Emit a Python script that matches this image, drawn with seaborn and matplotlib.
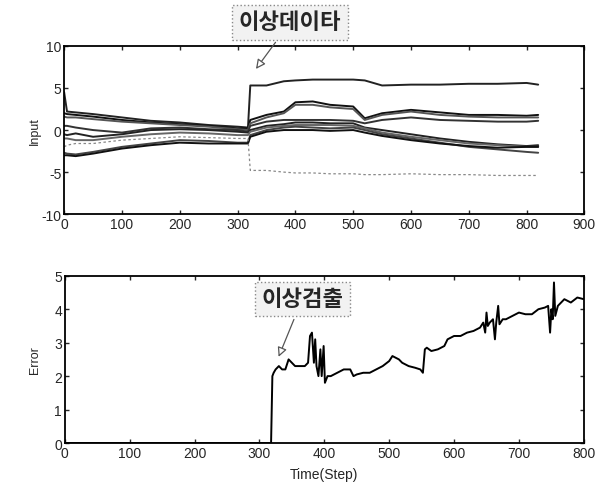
# Input / Error chart (MATLAB look) recreated with seaborn
import pandas as pd
import numpy as np
import matplotlib
matplotlib.use("Agg")
import matplotlib.pyplot as plt
import seaborn as sns

# Top panel: input signals, sampled at these steps
steps = [0, 5, 20, 50, 100, 150, 200, 250, 300, 318, 322, 350, 380, 400,
         430, 460, 500, 520, 550, 600, 650, 700, 750, 800, 820]

input_1 = [4.5, 2.2, 2.1, 1.9, 1.5, 1.1, 0.9, 0.6, 0.4, 0.3, 5.3, 5.3, 5.8, 5.9,
           6.0, 6.0, 6.0, 5.9, 5.3, 5.4, 5.4, 5.5, 5.5, 5.6, 5.4]
input_2 = [2.0, 1.9, 1.8, 1.6, 1.2, 0.9, 0.7, 0.5, 0.2, 0.2, 1.2, 1.8, 2.2, 3.3,
           3.4, 3.0, 2.8, 1.4, 2.0, 2.4, 2.1, 1.8, 1.8, 1.7, 1.8]
input_3 = [1.6, 1.5, 1.5, 1.3, 1.0, 0.8, 0.6, 0.4, 0.1, 0.0, 0.8, 1.5, 2.0, 3.0,
           3.0, 2.7, 2.5, 1.2, 1.8, 2.2, 1.8, 1.6, 1.5, 1.5, 1.5]
input_4 = [0.5, 0.5, 0.3, 0.0, -0.3, 0.2, 0.3, 0.1, 0.0, -0.2, 0.5, 1.0, 1.2, 1.2,
           1.2, 1.2, 1.1, 0.8, 1.2, 1.5, 1.2, 1.1, 1.0, 1.0, 1.1]
input_5 = [-0.5, -0.6, -0.4, -0.8, -0.5, 0.0, 0.1, 0.0, -0.2, -0.3, 0.0, 0.5, 0.7, 0.9,
           0.9, 0.8, 0.8, 0.3, 0.0, -0.5, -1.0, -1.4, -1.7, -1.9, -1.8]
input_6 = [-1.0, -1.0, -1.2, -1.2, -0.8, -0.5, -0.3, -0.4, -0.6, -0.6, -0.2, 0.3, 0.5, 0.6,
           0.6, 0.6, 0.5, 0.2, -0.3, -0.8, -1.2, -1.6, -1.8, -2.0, -2.0]
input_8 = [-2.7, -2.8, -2.9, -2.6, -2.0, -1.6, -1.2, -1.3, -1.5, -1.5, -0.6, 0.0, 0.3, 0.4,
           0.3, 0.2, 0.3, 0.0, -0.5, -1.0, -1.5, -2.0, -2.3, -2.6, -2.7]
input_9 = [-3.0, -3.0, -3.1, -2.8, -2.2, -1.8, -1.5, -1.6, -1.6, -1.6, -0.8, -0.2, 0.0, 0.0,
           0.0, -0.1, 0.0, -0.3, -0.7, -1.2, -1.6, -1.9, -2.1, -2.0, -2.0]
# the faint one that drops to about -5 at the anomaly
input_7 = [-2.0, -1.8, -1.6, -1.6, -1.2, -1.0, -0.8, -0.9, -1.0, -1.0, -4.8, -4.8, -5.0, -5.1,
           -5.1, -5.2, -5.2, -5.3, -5.3, -5.2, -5.3, -5.3, -5.4, -5.4, -5.4]

# Bottom panel: error
err_steps = [0, 100, 200, 300, 318, 319, 320, 322, 325, 330, 335, 340, 345, 350, 355, 360,
             365, 370, 375, 378, 381, 384, 386, 388, 391, 394, 396, 399, 401, 405,
             410, 420, 430, 440, 445, 450, 460, 470, 480, 490, 500, 505, 510, 515,
             520, 530, 540, 548, 552, 555, 558, 565, 575, 585, 590, 600, 610, 620,
             630, 640, 645, 648, 650, 652, 655, 660, 663, 665, 668, 670, 675, 680,
             690, 700, 710, 720, 730, 740, 745, 748, 750, 752, 754, 756, 760, 765,
             770, 780, 790, 800]
err_vals = [0.0, 0.0, 0.0, 0.0, 0.0, 1.0, 2.0, 2.1, 2.2, 2.3, 2.2, 2.2, 2.5, 2.4, 2.3, 2.3,
            2.3, 2.3, 2.4, 3.2, 3.3, 2.4, 3.1, 2.3, 2.0, 2.8, 2.0, 2.9, 1.8, 2.0,
            2.0, 2.1, 2.2, 2.2, 2.0, 2.05, 2.1, 2.1, 2.2, 2.3, 2.45, 2.6, 2.55, 2.5,
            2.4, 2.3, 2.25, 2.2, 2.1, 2.8, 2.85, 2.75, 2.8, 2.9, 3.1, 3.2, 3.2, 3.3,
            3.35, 3.45, 3.6, 3.3, 3.9, 3.5, 3.6, 3.7, 3.1, 3.6, 4.1, 3.55, 3.7, 3.7,
            3.8, 3.9, 3.85, 3.85, 4.0, 4.05, 4.1, 3.3, 4.0, 3.7, 4.8, 3.8, 4.1, 4.2,
            4.3, 4.2, 4.35, 4.3]

sns.set_style("ticks")
plt.rcParams['font.family'] = ['Liberation Sans', 'Noto Sans CJK KR', 'DejaVu Sans']
plt.rcParams['xtick.direction'] = 'in'
plt.rcParams['ytick.direction'] = 'in'
plt.rcParams['axes.unicode_minus'] = False

fig = plt.figure(figsize=(6.05, 4.89), dpi=100)
ax1 = fig.add_axes([0.106, 0.560, 0.860, 0.344])
ax2 = fig.add_axes([0.107, 0.092, 0.858, 0.342])

# top panel
normal = {"s1": input_1, "s2": input_2, "s3": input_3, "s4": input_4,
          "s5": input_5, "s6": input_6, "s8": input_8, "s9": input_9}
df = pd.concat([pd.DataFrame({"step": steps, "value": v, "series": k})
                for k, v in normal.items()])
shades = {"s1": "#222222", "s2": "#111111", "s3": "#555555", "s4": "#333333",
          "s5": "#222222", "s6": "#666666", "s8": "#444444", "s9": "#111111"}
sns.lineplot(data=df, x="step", y="value", hue="series", palette=shades,
             units="series", estimator=None, linewidth=1.4, legend=False, ax=ax1)
sns.lineplot(x=steps, y=input_7, color="#888888", linewidth=0.9,
             linestyle=(0, (2, 2)), ax=ax1)

ax1.set_xlim(0, 900)
ax1.set_ylim(-10, 10)
ax1.set_xticks(range(0, 901, 100))
ax1.set_yticks([-10, -5, 0, 5, 10])
ax1.set_xlabel("")
ax1.set_ylabel("Input", fontsize=9)
ax1.yaxis.set_label_coords(-0.045, 0.5)

ax1.annotate("이상데이타", xy=(329, 7.0), xytext=(391, 12.8),
             xycoords="data", textcoords="data", annotation_clip=False,
             ha="center", va="center", fontsize=16, fontweight="bold",
             bbox=dict(boxstyle="square,pad=0.3", fc="#f2f2f2", ec="#888888", ls=":"),
             arrowprops=dict(arrowstyle="-|>", color="#555555", fc="white",
                             lw=0.9, mutation_scale=14))

# bottom panel
sns.lineplot(x=err_steps, y=err_vals, color="black", linewidth=1.4, ax=ax2)
ax2.set_xlim(0, 800)
ax2.set_ylim(0, 5)
ax2.set_xticks(range(0, 801, 100))
ax2.set_yticks(range(0, 6))
ax2.set_xlabel("Time(Step)", fontsize=10, labelpad=5)
ax2.set_ylabel("Error", fontsize=9)
ax2.yaxis.set_label_coords(-0.045, 0.5)

ax2.annotate("이상검출", xy=(328, 2.5), xytext=(366, 4.3),
             xycoords="data", textcoords="data",
             ha="center", va="center", fontsize=16, fontweight="bold",
             bbox=dict(boxstyle="square,pad=0.3", fc="#f2f2f2", ec="#888888", ls=":"),
             arrowprops=dict(arrowstyle="-|>", color="#555555", fc="white",
                             lw=0.9, mutation_scale=14))

for ax in (ax1, ax2):
    ax.tick_params(top=True, right=True, labelsize=10, length=3, width=1, pad=2)
    for sp in ax.spines.values():
        sp.set_visible(True)
        sp.set_linewidth(1.3)
        sp.set_color("black")

plt.savefig("out.png", dpi=100)
